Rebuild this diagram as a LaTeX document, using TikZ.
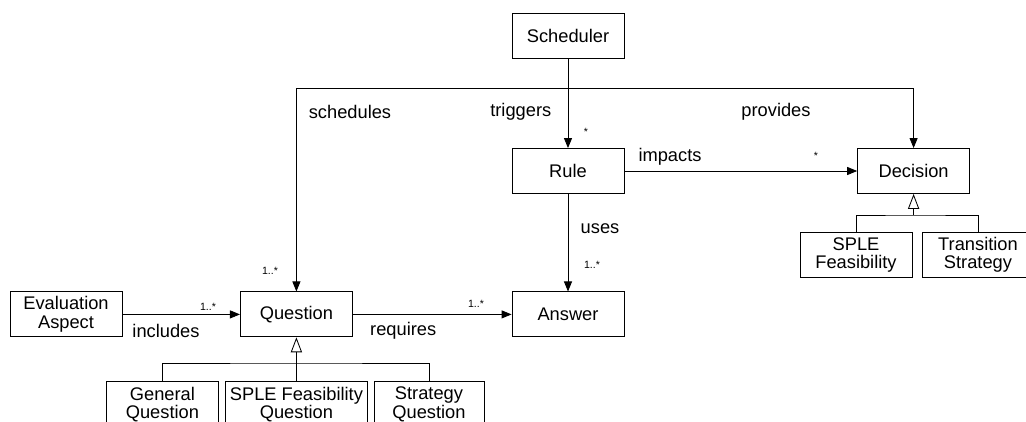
\documentclass[tikz,border=0pt]{standalone}
\usepackage{fontspec}
\setmainfont{Liberation Sans}
\usetikzlibrary{arrows.meta}

\begin{document}
\begin{tikzpicture}[line width=0.6pt,
  cls/.style={draw, minimum width=2.8cm, minimum height=1.125cm, align=center,
    inner sep=1pt, font=\fontsize{13}{13}\selectfont},
  lbl/.style={inner sep=0pt, font=\fontsize{13}{13}\selectfont},
  mult/.style={inner sep=0pt, font=\fontsize{7.5}{8}\selectfont},
  arr/.style={-{Triangle[length=0.25cm,width=0.2cm]}},
  gen/.style={-{Triangle[open,length=0.375cm,width=0.28cm]}}]
\useasboundingbox (0,0) rectangle (25.65,-10.525);

% classes
\node[cls] (sched) at (14.2,-0.9) {Scheduler};
\node[cls] (rule) at (14.2,-4.275) {Rule};
\node[cls] (dec) at (22.84,-4.275) {Decision};
\node[cls] (ans) at (14.2,-7.86) {Answer};
\node[cls] (quest) at (7.41,-7.86) {Question};
\node[cls] (eval) at (1.65,-7.86) {Evaluation\\Aspect};

\node[cls] (gq) at (4.06,-10.11) {General\\Question};
\node[cls, minimum width=3.55cm] (sfq) at (7.41,-10.11) {SPLE Feasibility\\Question};
\node[cls, minimum width=2.75cm] (sq) at (10.725,-10.11) {Strategy\\Question};

\node[cls] (sf) at (21.4,-6.375) {SPLE\\Feasibility};
\node[cls] (ts) at (24.45,-6.375) {Transition\\Strategy};

\coordinate (bus) at (0,-2.2);
\coordinate (qbar) at (7.41,-9.075);
\coordinate (dbar) at (22.84,-5.375);

% associations
\draw[arr] (sched) -- (rule);
\draw[arr] (sched |- bus) -| (quest);
\draw[arr] (sched |- bus) -| (dec);
\draw[arr] (rule) -- (dec);
\draw[arr] (rule) -- (ans);
\draw[arr] (quest) -- (ans);
\draw[arr] (eval) -- (quest);

% generalizations
\draw (gq) |- (qbar) -| (sq);
\draw[gen] (sfq) -- (quest);
\draw (sf) |- (dbar) -| (ts);
\draw[gen] (dbar) -- (dec);

% labels
\node[lbl] (lsched) at (8.75,-2.8) {schedules};
\node[lbl] (ltrig) at (13.02,-2.8) {triggers};
\node[lbl] (lprov) at (19.4,-2.8) {provides};
\node[lbl] (limp) at (16.75,-3.93) {impacts};
\node[lbl] (luses) at (15.0,-5.72) {uses};
\node[lbl] (lincl) at (4.15,-8.28) {includes};
\node[lbl] (lreq) at (10.08,-8.26) {requires};

\node[mult] (mtrig) at (14.65,-3.29) {*};
\node[mult] (mimp) at (20.4,-3.9) {*};
\node[mult] (muses) at (14.8,-6.62) {1..*};
\node[mult] (msched) at (6.75,-6.78) {1..*};
\node[mult] (mincl) at (5.2,-7.68) {1..*};
\node[mult] (mreq) at (11.9,-7.6) {1..*};
\end{tikzpicture}
\end{document}
